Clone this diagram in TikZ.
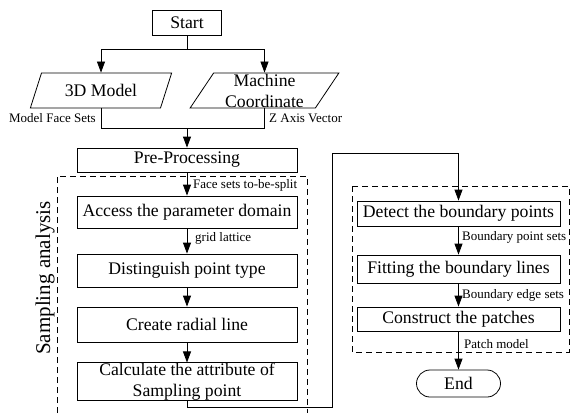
\documentclass[tikz,border=0pt]{standalone}
\usepackage{fontspec}
\setmainfont{Liberation Serif}
\usetikzlibrary{shapes.geometric,arrows.meta,positioning}

\begin{document}
\begin{tikzpicture}[
    x=1pt, y=-1pt,
    block/.style={draw, rectangle, inner sep=0pt, minimum width=220pt, line width=0.8pt, align=center, font=\fontsize{17.7}{21}\selectfont},
    rblock/.style={block, minimum width=203pt},
    io/.style={draw, trapezium, trapezium left angle=61.5, trapezium right angle=118.5, trapezium stretches=true, minimum height=35pt, inner sep=0pt, line width=0.8pt, align=center, font=\fontsize{17.7}{21}\selectfont},
    term/.style={draw, rectangle, rounded corners=13.5pt, minimum width=84pt, minimum height=27pt, inner sep=0pt, line width=0.8pt, font=\fontsize{17.7}{21}\selectfont},
    flow/.style={-{Triangle[width=8pt,length=11pt]}, line width=0.8pt},
    wire/.style={line width=0.8pt},
    note/.style={inner sep=1pt, font=\fontsize{13}{15}\selectfont},
    region/.style={dash pattern=on 6pt off 4pt, line width=0.8pt},
    title/.style={rotate=90, font=\fontsize{21}{25}\selectfont},
]
\useasboundingbox (0,0) rectangle (571,413);

% Start and inputs
\node[block, minimum width=69pt, minimum height=25pt] (start) at (187,22.5) {Start};
\node[io, minimum width=142pt] (model) at (101,90.5) {3D Model};
\node[io, minimum width=149pt] (machine) at (264.5,90.5) {Machine\\Coordinate};

\coordinate (fork) at (187,49);
\coordinate (merge) at (187,128);

\draw[wire] (start) -- (fork);
\draw[flow] (fork) -| (model.north);
\draw[flow] (fork) -| (machine.north);
\draw[wire] (model.south) |- (machine.south |- merge) -- (machine.south);

\node[note, anchor=east] at (97,118) {Model Face Sets};
\node[note, anchor=west] at (268,118) {Z Axis Vector};

% Sampling analysis
\node[block, minimum height=24pt] (prep) at (187,160) {Pre-Processing};
\node[block, minimum height=32pt] (access) at (187,212) {Access the parameter domain};
\node[block, minimum height=33pt] (ptype) at (187,270.5) {Distinguish point type};
\node[block, minimum height=35pt] (radial) at (187,324.5) {Create radial line};
\node[block, minimum height=37pt] (attrib) at (187,381.5) {Calculate the attribute of\\Sampling point};

\draw[flow] (merge) -- (prep);
\draw[flow] (prep) -- (access);
\draw[flow] (access) -- (ptype);
\draw[flow] (ptype) -- (radial);
\draw[flow] (radial) -- (attrib);

\node[note, anchor=west] at (192,185) {Face sets to-be-split};
\node[note, anchor=west] at (194,238) {grid lattice};

\draw[region] (57,413) -- (57,176) -- (307,176) -- (307,413);
\node[title] (sampling) at (45,278) {Sampling analysis};

% Patch construction
\node[rblock, minimum height=25pt] (detect) at (458.5,213.5) {Detect the boundary points};
\node[rblock, minimum height=28pt] (fitting) at (458.5,269) {Fitting the boundary lines};
\node[rblock, minimum height=24pt] (patch) at (458.5,319) {Construct the patches};
\node[term] (end) at (458.5,383.5) {End};

\draw[flow] (detect) -- (fitting);
\draw[flow] (fitting) -- (patch);
\draw[flow] (patch) -- (end);

\node[note, anchor=west] at (461,237) {Boundary point sets};
\node[note, anchor=west] at (461,295) {Boundary edge sets};
\node[note, anchor=west] at (463,344) {Patch model};

\draw[region] (352,186) rectangle (569,352);

% link between the two stages
\coordinate (low) at (332,407);
\coordinate (high) at (332,153);
\draw[flow] (attrib.south) |- (low) -- (high) -| (detect.north);

\end{tikzpicture}
\end{document}
